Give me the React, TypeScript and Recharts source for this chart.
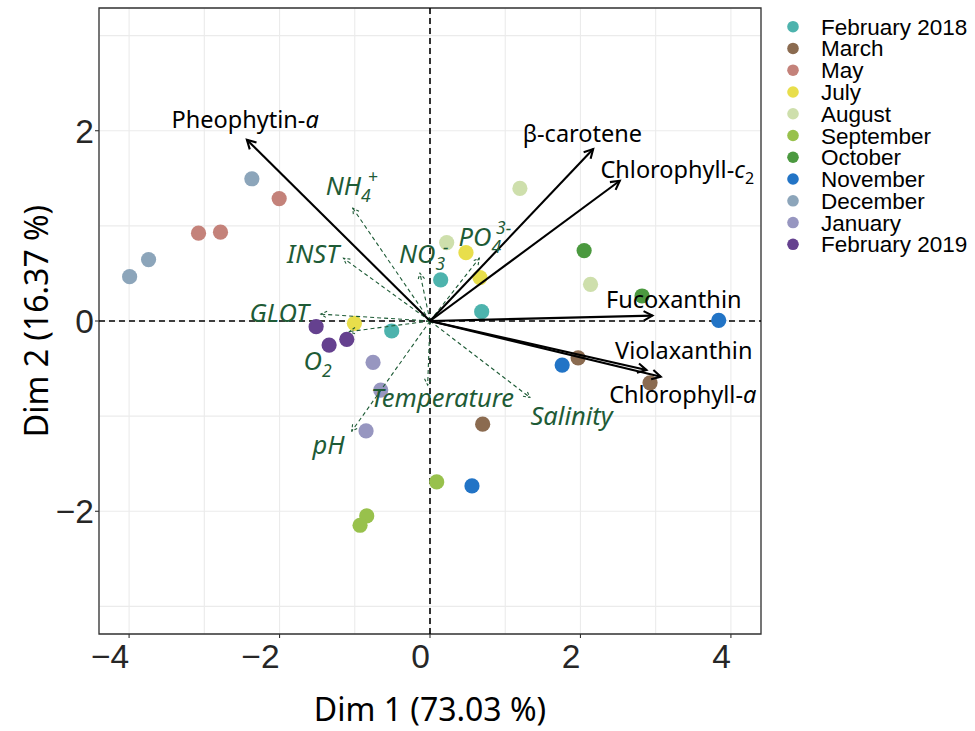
import React from 'react';
import {
  ScatterChart,
  Scatter,
  XAxis,
  YAxis,
  CartesianGrid,
  ReferenceLine,
  ReferenceArea,
  Legend,
} from 'recharts';

// ---------- data ----------
const monthNames = [
  'February 2018', 'March', 'May', 'July', 'August', 'September',
  'October', 'November', 'December', 'January', 'February 2019',
];
const monthColors = [
  '#4DB3AD', '#8B6B50', '#C4827A', '#E8DE4B', '#CEDFAC', '#98C14C',
  '#4B993F', '#2274C6', '#8CA5BA', '#9796C0', '#65418F',
];

const scoresFeb2018 = [{ x: 0.142, y: 0.432 }, { x: 0.687, y: 0.098 }, { x: -0.509, y: -0.105 }];
const scoresMarch = [{ x: 1.969, y: -0.387 }, { x: 2.925, y: -0.65 }, { x: 0.7, y: -1.084 }];
const scoresMay = [{ x: -3.077, y: 0.923 }, { x: -2.785, y: 0.934 }, { x: -2.005, y: 1.287 }];
const scoresJuly = [{ x: -1.005, y: -0.024 }, { x: 0.478, y: 0.719 }, { x: 0.664, y: 0.456 }];
const scoresAugust = [{ x: 0.222, y: 0.824 }, { x: 1.195, y: 1.393 }, { x: 2.134, y: 0.386 }];
const scoresSeptember = [{ x: 0.089, y: -1.692 }, { x: -0.841, y: -2.049 }, { x: -0.93, y: -2.147 }];
const scoresOctober = [{ x: 2.049, y: 0.74 }, { x: 2.819, y: 0.263 }];
const scoresNovember = [{ x: 3.838, y: 0.007 }, { x: 1.757, y: -0.463 }, { x: 0.558, y: -1.734 }];
const scoresDecember = [{ x: -2.368, y: 1.495 }, { x: -3.741, y: 0.646 }, { x: -3.993, y: 0.466 }];
const scoresJanuary = [{ x: -0.757, y: -0.435 }, { x: -0.655, y: -0.726 }, { x: -0.85, y: -1.155 }];
const scoresFeb2019 = [{ x: -1.514, y: -0.06 }, { x: -1.341, y: -0.253 }, { x: -1.106, y: -0.193 }];

const monthScores = [
  scoresFeb2018, scoresMarch, scoresMay, scoresJuly, scoresAugust, scoresSeptember,
  scoresOctober, scoresNovember, scoresDecember, scoresJanuary, scoresFeb2019,
];

const pigmentNames = ['Pheophytin-a', 'β-carotene', 'Chlorophyll-c2', 'Fucoxanthin', 'Violaxanthin', 'Chlorophyll-a'];
const pigmentDim1 = [-2.434, 2.169, 2.523, 2.957, 2.878, 3.068];
const pigmentDim2 = [1.905, 1.807, 1.474, 0.056, -0.516, -0.586];
const pigmentLabelDim1 = [-2.457, 2.025, 3.287, 3.24, 3.373, 3.36];
const pigmentLabelDim2 = [2.025, 1.877, 1.502, 0.134, -0.403, -0.866];

const envNames = ['NH4+', 'INST', 'NO3-', 'PO43-', 'GLOT', 'O2', 'Temperature', 'Salinity', 'pH'];
const envDim1 = [-1.027, -1.151, -0.133, 0.655, -1.452, -1.072, -0.031, 1.328, -1.04];
const envDim2 = [1.186, 0.66, 0.502, 0.66, 0.072, -0.111, -0.674, -0.803, -1.158];
const envLabelDim1 = [-1.04, -1.556, -0.083, 0.73, -2.005, -1.494, 0.166, 1.882, -1.35];
const envLabelDim2 = [1.326, 0.607, 0.607, 0.789, -0.007, -0.516, -0.902, -1.095, -1.403];

const xTicks = [-4, -3, -2, -1, 0, 1, 2, 3, 4];
const yTicks = [-3, -2, -1, 0, 1, 2, 3];
const xDomain: [number, number] = [-4.4, 4.4];
const yDomain: [number, number] = [-3.29, 3.29];

// ---------- derived tables ----------
const pigmentArrowData = pigmentNames.flatMap((n, i) => [
  { x: 0, y: 0, name: n },
  { x: pigmentDim1[i], y: pigmentDim2[i], name: n },
]);
const envArrowData = envNames.flatMap((n, i) => [
  { x: 0, y: 0, name: n },
  { x: envDim1[i], y: envDim2[i], name: n },
]);
const pigmentLabelData = pigmentNames.map((n, i) => ({ x: pigmentLabelDim1[i], y: pigmentLabelDim2[i], name: n }));
const envLabelData = envNames.map((n, i) => ({ x: envLabelDim1[i], y: envLabelDim2[i], name: n }));

// ---------- styles ----------
const TICK_FONT = '"Liberation Sans", Arial, sans-serif';
const LABEL_FONT = '"Noto Sans", "Open Sans", sans-serif';
const GREEN = '#1E5B36';

const fmt = (v: number) => (v < 0 ? '\u2212' + Math.abs(v) : String(v));

const XTick = (props: any) => {
  const { x, y, payload } = props;
  const v = payload.value;
  if (Math.abs(v) % 2 !== 0) return <g />;
  return (
    <g>
      <line x1={x} x2={x} y1={y} y2={y + 4} stroke="#333" strokeWidth={1.1} />
      <text x={x} y={y + 33.7} textAnchor="end" fontSize={33.5} fontFamily={TICK_FONT} fill="#262626">
        {fmt(v)}
      </text>
    </g>
  );
};

const YTick = (props: any) => {
  const { x, y, payload } = props;
  const v = payload.value;
  if (Math.abs(v) % 2 !== 0) return <g />;
  return (
    <g>
      <line x1={x - 4} x2={x} y1={y} y2={y} stroke="#333" strokeWidth={1.1} />
      <text x={x - 5} y={y + 12} textAnchor="end" fontSize={33.5} fontFamily={TICK_FONT} fill="#262626">
        {fmt(v)}
      </text>
    </g>
  );
};

const makeArrows = (color: string, width: number, dash: string | undefined, head: number) => (props: any) => {
  const pts = props.points || [];
  const out: React.ReactNode[] = [];
  for (let i = 0; i + 1 < pts.length; i += 2) {
    const a = pts[i];
    const b = pts[i + 1];
    const ang = Math.atan2(b.y - a.y, b.x - a.x);
    const s = 0.5;
    const h1x = b.x - head * Math.cos(ang - s);
    const h1y = b.y - head * Math.sin(ang - s);
    const h2x = b.x - head * Math.cos(ang + s);
    const h2y = b.y - head * Math.sin(ang + s);
    out.push(
      <g key={i}>
        <line x1={a.x} y1={a.y} x2={b.x} y2={b.y} stroke={color} strokeWidth={width} strokeDasharray={dash} />
        <polyline
          points={`${h1x},${h1y} ${b.x},${b.y} ${h2x},${h2y}`}
          fill="none"
          stroke={color}
          strokeWidth={width}
          strokeDasharray={dash ? '3 2' : undefined}
          strokeLinejoin="miter"
        />
      </g>
    );
  }
  return <g>{out}</g>;
};

const emptyShape = () => <g />;

const dotShape = (props: any) => <circle cx={props.cx} cy={props.cy} r={7.6} fill={props.fill} />;

const richText = (name: string, small: number) => {
  switch (name) {
    case 'Pheophytin-a':
      return [<tspan key="a">Pheophytin-</tspan>, <tspan key="b" fontStyle="italic">a</tspan>];
    case 'Chlorophyll-a':
      return [<tspan key="a">Chlorophyll-</tspan>, <tspan key="b" fontStyle="italic">a</tspan>];
    case 'Chlorophyll-c2':
      return [
        <tspan key="a">Chlorophyll-</tspan>,
        <tspan key="b" fontStyle="italic">c</tspan>,
        <tspan key="c" fontSize={small} dy={6}>2</tspan>,
      ];
    case 'NH4+':
      return [
        <tspan key="a">NH</tspan>,
        <tspan key="b" fontSize={small} dy={7}>4</tspan>,
        <tspan key="c" fontSize={small} dx={-3} dy={-19}>+</tspan>,
      ];
    case 'NO3-':
      return [
        <tspan key="a">NO</tspan>,
        <tspan key="b" fontSize={small} dy={7}>3</tspan>,
        <tspan key="c" fontSize={small} dx={-2} dy={-17}>-</tspan>,
      ];
    case 'PO43-':
      return [
        <tspan key="a">PO</tspan>,
        <tspan key="b" fontSize={small} dy={7}>4</tspan>,
        <tspan key="c" fontSize={small} dx={-5} dy={-19}>3-</tspan>,
      ];
    case 'O2':
      return [<tspan key="a">O</tspan>, <tspan key="b" fontSize={small} dy={7}>2</tspan>];
    default:
      return name;
  }
};

const pigmentLabelShape = (props: any) => (
  <text x={props.cx} y={props.cy} textAnchor="middle" fontSize={23.5} fontFamily={LABEL_FONT} fill="#000">
    {richText(props.payload.name, 16)}
  </text>
);

const envLabelShape = (props: any) => (
  <text
    x={props.cx}
    y={props.cy}
    textAnchor="middle"
    fontSize={25.5}
    fontStyle="italic"
    fontFamily={LABEL_FONT}
    fill={GREEN}
  >
    {richText(props.payload.name, 17.5)}
  </text>
);

const LegendBox = () => (
  <svg width={200} height={250} style={{ display: 'block' }}>
    {monthNames.map((m, i) => {
      const cy = 16.7 + i * 21.76;
      return (
        <g key={m}>
          <circle cx={18} cy={cy} r={5.8} fill={monthColors[i]} />
          <text x={46} y={cy + 8} fontSize={22.5} fontFamily={TICK_FONT} fill="#000">
            {m}
          </text>
        </g>
      );
    })}
  </svg>
);

export default function App() {
  return (
    <div style={{ position: 'absolute', left: 0, top: 0, width: 975, height: 731, background: '#fff' }}>
      <ScatterChart width={975} height={731} margin={{ top: 8, right: 214, bottom: 10, left: 10 }}>
        <CartesianGrid stroke="#EBEBEB" strokeWidth={1.1} />
        <XAxis
          type="number"
          dataKey="x"
          domain={xDomain}
          ticks={xTicks}
          interval={0}
          allowDataOverflow
          axisLine={false}
          tickLine={false}
          tickSize={0}
          tickMargin={0}
          tick={XTick}
          height={87}
          label={{
            value: 'Dim 1 (73.03 %)',
            position: 'insideBottom',
            offset: 0,
            fill: '#000',
            fontSize: 32,
            fontFamily: LABEL_FONT,
          }}
        />
        <YAxis
          type="number"
          dataKey="y"
          domain={yDomain}
          ticks={yTicks}
          interval={0}
          allowDataOverflow
          axisLine={false}
          tickLine={false}
          tickSize={0}
          tickMargin={0}
          tick={YTick}
          width={89}
          label={{
            value: 'Dim 2 (16.37 %)',
            angle: -90,
            position: 'insideLeft',
            offset: 27,
            fill: '#000',
            fontSize: 32,
            fontFamily: LABEL_FONT,
            style: { textAnchor: 'middle' },
          }}
        />
        <ReferenceLine x={0} stroke="#000" strokeWidth={1.6} strokeDasharray="6 4" />
        <ReferenceLine y={0} stroke="#000" strokeWidth={1.6} strokeDasharray="6 4" />
        {monthScores.map((d, i) => (
          <Scatter
            key={monthNames[i]}
            name={monthNames[i]}
            data={d}
            fill={monthColors[i]}
            shape={dotShape}
            isAnimationActive={false}
          />
        ))}
        <Scatter
          name="env-arrows"
          data={envArrowData}
          fill={GREEN}
          shape={emptyShape}
          line={makeArrows(GREEN, 1.1, '4 3', 7)}
          lineType="joint"
          isAnimationActive={false}
        />
        <Scatter
          name="pigment-arrows"
          data={pigmentArrowData}
          fill="#000"
          shape={emptyShape}
          line={makeArrows('#000', 2.1, undefined, 10)}
          lineType="joint"
          isAnimationActive={false}
        />
        <Scatter name="env-labels" data={envLabelData} fill={GREEN} shape={envLabelShape} isAnimationActive={false} />
        <Scatter name="pigment-labels" data={pigmentLabelData} fill="#000" shape={pigmentLabelShape} isAnimationActive={false} />
        <ReferenceArea
          x1={xDomain[0]}
          x2={xDomain[1]}
          y1={yDomain[0]}
          y2={yDomain[1]}
          fill="none"
          fillOpacity={0}
          stroke="#333"
          strokeWidth={1.3}
          ifOverflow="visible"
        />
        <Legend
          layout="vertical"
          align="center"
          verticalAlign="middle"
          wrapperStyle={{ left: 775, top: 10, width: 200, height: 250 }}
          content={() => <LegendBox />}
        />
      </ScatterChart>
    </div>
  );
}
